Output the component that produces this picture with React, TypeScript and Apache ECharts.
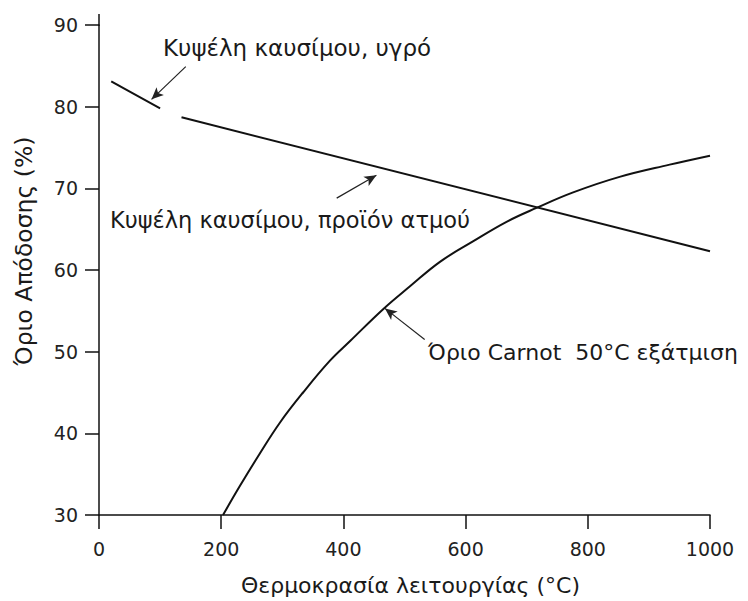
import React, { useEffect, useRef } from "react";
import * as echarts from "echarts";

const xTicks = [0, 200, 400, 600, 800, 1000];
const yTicks = [30, 40, 50, 60, 70, 80, 90];

const liquidX = [20, 100];
const liquidY = [83.1, 79.8];

const steamX = [135, 1000];
const steamY = [78.7, 62.3];

const carnotX = [203, 231, 263, 296, 334, 378, 411, 465, 509, 558, 612, 667, 716, 776, 852, 934, 1000];
const carnotY = [30, 33.6, 37.5, 41.3, 45.0, 48.9, 51.3, 55.2, 58.0, 61.0, 63.5, 65.9, 67.6, 69.5, 71.4, 72.9, 74.0];

// arrows: [fromX, fromY, toX, toY]
const arrows = [
  [142, 84.9, 86, 80.9],
  [389, 68.8, 454, 71.6],
  [533, 51.5, 468, 55.3],
];

const labels = [
  "Κυψέλη καυσίμου, υγρό",
  "Κυψέλη καυσίμου, προϊόν ατμού",
  "Όριο Carnot  50°C εξάτμιση",
];

const FONT = "DejaVu Sans";
const TXT = "#1a1a1a";

export default function App() {
  const ref = useRef<HTMLDivElement>(null);
  useEffect(() => {
    document.body.style.margin = "0";
    const chart = echarts.init(ref.current!, null, { renderer: "svg" });
    const zip = (xs: number[], ys: number[]) => xs.map((x, i) => [x, ys[i]]);
    const lineStyle = { color: "#111", width: 2 };
    chart.setOption({
      animation: false,
      backgroundColor: "#fff",
      grid: { left: 99, right: 38, top: 25, bottom: 85 },
      xAxis: {
        type: "value",
        min: xTicks[0],
        max: xTicks[xTicks.length - 1],
        interval: 200,
        splitLine: { show: false },
        axisLine: { show: true, lineStyle: { color: "#111", width: 1.5 } },
        axisTick: { show: true, inside: false, length: 14, lineStyle: { color: "#111", width: 1.5 } },
        axisLabel: { fontFamily: FONT, fontSize: 19, color: "#222", margin: 24, formatter: (v: number) => String(v) },
        name: "Θερμοκρασία λειτουργίας (°C)",
        nameLocation: "middle",
        nameGap: 59,
        nameTextStyle: { fontFamily: FONT, fontSize: 22, color: TXT, padding: [0, 0, 0, 12] },
      },
      yAxis: {
        type: "value",
        min: yTicks[0],
        max: yTicks[yTicks.length - 1],
        interval: 10,
        splitLine: { show: false },
        axisLine: { show: true, lineStyle: { color: "#111", width: 1.5 } },
        axisTick: { show: true, inside: false, length: 14, lineStyle: { color: "#111", width: 1.5 } },
        axisLabel: { fontFamily: FONT, fontSize: 19, color: "#222", margin: 21 },
      },
      graphic: [
        { type: "line", shape: { x1: 99, y1: 14, x2: 99, y2: 26 }, style: { stroke: "#111", lineWidth: 1.5 } },
        {
          type: "text",
          x: 24,
          y: 251,
          rotation: Math.PI / 2,
          style: { text: "Όριο Απόδοσης (%)", font: `23.5px '${FONT}'`, fill: TXT, align: "center", verticalAlign: "middle" },
        },
        { type: "text", x: 163, y: 48, style: { text: labels[0], font: `23px '${FONT}'`, fill: TXT, align: "left", verticalAlign: "middle" } },
        { type: "text", x: 110, y: 220, style: { text: labels[1], font: `22.5px '${FONT}'`, fill: TXT, align: "left", verticalAlign: "middle" } },
        { type: "text", x: 428, y: 352, style: { text: labels[2], font: `22px '${FONT}'`, fill: TXT, align: "left", verticalAlign: "middle" } },
      ],
      series: [
        { type: "line", data: zip(liquidX, liquidY), symbol: "none", lineStyle },
        { type: "line", data: zip(steamX, steamY), symbol: "none", lineStyle },
        { type: "line", data: zip(carnotX, carnotY), symbol: "none", smooth: 0.4, lineStyle },
        {
          type: "line",
          data: [],
          markLine: {
            silent: true,
            symbol: ["none", "arrow"],
            symbolSize: [8, 12],
            label: { show: false },
            lineStyle: { color: "#222", width: 1.2, type: "solid" },
            data: arrows.map((a) => [{ coord: [a[0], a[1]] }, { coord: [a[2], a[3]] }]),
          },
        },
      ],
    });
    return () => chart.dispose();
  }, []);
  return <div ref={ref} style={{ width: 748, height: 601 }} />;
}
